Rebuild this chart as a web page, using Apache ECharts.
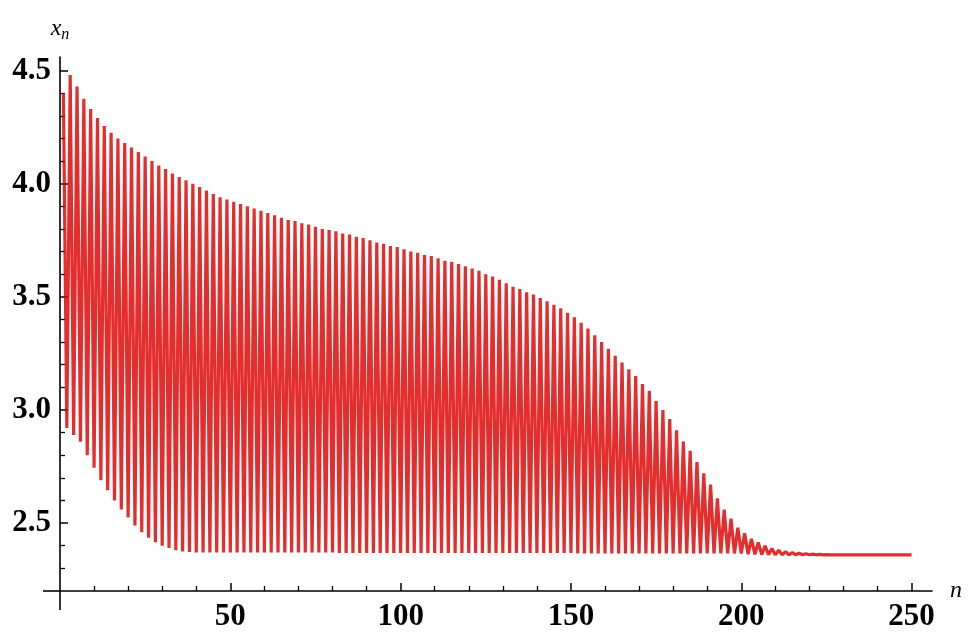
<!DOCTYPE html>
<html>
<head>
<meta charset="utf-8">
<script src="https://cdn.jsdelivr.net/npm/echarts@6/dist/echarts.min.js"></script>
<style>
    html, body { margin: 0; padding: 0; background: #fff; }
    #chart { width: 970px; height: 633px; }
</style>
</head>
<body>
<div id="chart"></div>
<script>
    // x_n for odd n = 1, 3, 5 ... 249
    var oddValues = [
        4.40, 4.48, 4.43, 4.375, 4.33, 4.29, 4.255, 4.225, 4.20, 4.18,
        4.16, 4.14, 4.12, 4.10, 4.08, 4.065, 4.045, 4.03, 4.015, 4.00,
        3.985, 3.97, 3.955, 3.94, 3.93, 3.92, 3.91, 3.90, 3.89, 3.88,
        3.87, 3.86, 3.85, 3.84, 3.835, 3.825, 3.82, 3.81, 3.80, 3.795,
        3.79, 3.78, 3.775, 3.765, 3.76, 3.75, 3.74, 3.735, 3.725, 3.72,
        3.71, 3.70, 3.695, 3.685, 3.68, 3.67, 3.66, 3.655, 3.645, 3.635,
        3.625, 3.615, 3.60, 3.59, 3.575, 3.56, 3.545, 3.535, 3.52, 3.51,
        3.495, 3.48, 3.465, 3.45, 3.43, 3.41, 3.385, 3.36, 3.33, 3.30,
        3.27, 3.24, 3.21, 3.18, 3.15, 3.115, 3.085, 3.04, 3.00, 2.96,
        2.91, 2.86, 2.82, 2.77, 2.72, 2.67, 2.61, 2.56, 2.52, 2.48,
        2.455, 2.43, 2.415, 2.40, 2.388, 2.38, 2.374, 2.37, 2.367, 2.365,
        2.363, 2.362, 2.361, 2.36, 2.36, 2.36, 2.36, 2.36, 2.36, 2.36,
        2.36, 2.36, 2.36, 2.36, 2.36
    ];
    // x_n for even n = 2, 4 ... 250
    var evenValues = [
        2.92, 2.89, 2.86, 2.80, 2.745, 2.69, 2.645, 2.60, 2.56, 2.525,
        2.49, 2.46, 2.435, 2.415, 2.40, 2.39, 2.38, 2.375, 2.372, 2.37,
        2.37, 2.37, 2.37, 2.37, 2.37, 2.37, 2.37, 2.37, 2.37, 2.37,
        2.37, 2.37, 2.37, 2.37, 2.37, 2.37, 2.37, 2.37, 2.37, 2.37,
        2.368, 2.368, 2.368, 2.368, 2.368, 2.368, 2.368, 2.368, 2.368, 2.368,
        2.368, 2.368, 2.368, 2.368, 2.368, 2.368, 2.368, 2.368, 2.368, 2.368,
        2.368, 2.368, 2.368, 2.368, 2.368, 2.368, 2.368, 2.368, 2.368, 2.368,
        2.368, 2.368, 2.368, 2.368, 2.368, 2.366, 2.366, 2.366, 2.366, 2.366,
        2.366, 2.366, 2.366, 2.366, 2.366, 2.366, 2.366, 2.366, 2.366, 2.366,
        2.366, 2.366, 2.366, 2.366, 2.366, 2.366, 2.366, 2.366, 2.366, 2.366,
        2.363, 2.362, 2.361, 2.36, 2.36, 2.36, 2.36, 2.36, 2.36, 2.36,
        2.36, 2.36, 2.36, 2.36, 2.36, 2.36, 2.36, 2.36, 2.36, 2.36,
        2.36, 2.36, 2.36, 2.36, 2.36
    ];
    var xMajorTicks = [50, 100, 150, 200, 250];
    var xMinorTicks = [10, 20, 30, 40, 60, 70, 80, 90, 110, 120, 130, 140, 160, 170, 180, 190, 210, 220, 230, 240];
    var yMajorTicks = [2.5, 3.0, 3.5, 4.0, 4.5];
    var yMinorTicks = [2.3, 2.4, 2.6, 2.7, 2.8, 2.9, 3.1, 3.2, 3.3, 3.4, 3.6, 3.7, 3.8, 3.9, 4.1, 4.2, 4.3, 4.4];

    var points = [];
    for (var i = 0; i < oddValues.length; i++) {
        points.push([2 * i + 1, oddValues[i]]);
        points.push([2 * i + 2, evenValues[i]]);
    }

    var labelFont = {
        fontFamily: 'Liberation Serif',
        fontWeight: 'bold',
        fontSize: 31,
        color: '#000'
    };
    var axisColor = '#000';

    var chart = echarts.init(document.getElementById('chart'));
    var option = {
        animation: false,
        backgroundColor: '#fff',
        grid: {
            left: 60,
            top: 57,
            width: 872,
            height: 534,
            containLabel: false,
            outerBoundsMode: 'none'
        },
        xAxis: [
            {
                type: 'value',
                min: 0,
                max: 256,
                position: 'bottom',
                name: 'n',
                nameLocation: 'end',
                nameGap: 18,
                nameTextStyle: {
                    fontFamily: 'Liberation Serif',
                    fontStyle: 'italic',
                    fontSize: 24,
                    color: '#000',
                    verticalAlign: 'middle'
                },
                axisLine: {onZero: false, lineStyle: {color: axisColor, width: 1.6}},
                axisTick: {inside: true, length: 8, customValues: xMajorTicks, lineStyle: {color: axisColor, width: 1.5}},
                axisLabel: Object.assign({customValues: xMajorTicks, margin: 10}, labelFont),
                splitLine: {show: false}
            },
            {
                type: 'value',
                min: 0,
                max: 256,
                position: 'bottom',
                axisLine: {show: false, onZero: false},
                axisTick: {inside: true, length: 5, customValues: xMinorTicks, lineStyle: {color: axisColor, width: 1.3}},
                axisLabel: {show: false},
                splitLine: {show: false}
            }
        ],
        yAxis: [
            {
                type: 'value',
                min: 2.2,
                max: 4.56,
                position: 'left',
                name: '{x|x}{n|n}',
                nameLocation: 'end',
                nameGap: 16,
                nameTextStyle: {
                    rich: {
                        x: {fontFamily: 'Liberation Serif', fontStyle: 'italic', fontSize: 24, color: '#000', verticalAlign: 'top', lineHeight: 24},
                        n: {fontFamily: 'Liberation Serif', fontStyle: 'italic', fontSize: 16, color: '#000', verticalAlign: 'top', lineHeight: 16, padding: [10, 0, 0, 0]}
                    }
                },
                axisLine: {onZero: false, lineStyle: {color: axisColor, width: 1.6}},
                axisTick: {inside: true, length: 8, customValues: yMajorTicks, lineStyle: {color: axisColor, width: 1.5}},
                axisLabel: Object.assign({
                    customValues: yMajorTicks,
                    margin: 9,
                    formatter: function (v) {
                        return v.toFixed(1);
                    }
                }, labelFont),
                splitLine: {show: false}
            },
            {
                type: 'value',
                min: 2.2,
                max: 4.56,
                position: 'left',
                axisLine: {show: false, onZero: false},
                axisTick: {inside: true, length: 5, customValues: yMinorTicks, lineStyle: {color: axisColor, width: 1.3}},
                axisLabel: {show: false},
                splitLine: {show: false}
            }
        ],
        series: [
            {
                type: 'line',
                xAxisIndex: 0,
                yAxisIndex: 0,
                data: points,
                symbol: 'none',
                lineStyle: {color: 'rgba(222,0,0,0.82)', width: 3.2}
            }
        ]
    };
    chart.setOption(option);

    // axes cross and run on a little past the origin, as in the original
    var origin = chart.convertToPixel({xAxisIndex: 0, yAxisIndex: 0}, [0, 2.2]);
    chart.setOption({
        graphic: [
            {
                type: 'line',
                shape: {x1: origin[0], y1: origin[1], x2: origin[0], y2: origin[1] + 19},
                style: {stroke: axisColor, lineWidth: 1.6}
            },
            {
                type: 'line',
                shape: {x1: origin[0] - 17, y1: origin[1], x2: origin[0], y2: origin[1]},
                style: {stroke: axisColor, lineWidth: 1.6}
            }
        ]
    });
</script>
</body>
</html>
